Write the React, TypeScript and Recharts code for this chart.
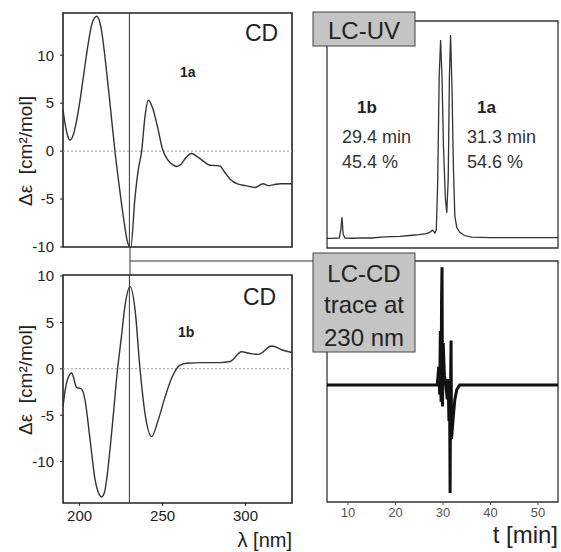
import React from "react";
import {
  LineChart,
  Line,
  XAxis,
  YAxis,
  ReferenceLine,
  ReferenceArea,
} from "recharts";

// CD spectrum of 1a (top left)
const wavelength1a = [
  190, 191.5, 193, 194.2, 196, 198, 200, 202.5, 205, 207.5, 210.3, 213, 215.5,
  218, 221.3, 224, 226.5, 228.5, 230.8, 233.4, 235.5, 237.4, 239.4, 241.4, 244,
  247, 250, 253, 256, 258.5, 261, 264, 267.5, 271, 275, 278, 281, 284.6, 287,
  290.6, 295.5, 300, 305.8, 310.6, 313.6, 317, 321, 328,
];
const deltaEps1a = [
  4.3, 2.6, 1.5, 1.15, 1.6, 3.0, 5.0, 8.0, 11.0, 13.3, 14.06, 12.8, 9.5, 5.5,
  0, -3.8, -7.0, -9.2, -10.1, -4.8, -1.8, 0, 3.6, 5.3, 4.5, 2.5, 0.2, -0.9,
  -1.4, -1.6, -1.4, -0.7, -0.25, -0.6, -1.1, -1.45, -1.5, -1.55, -2.1, -2.9,
  -3.45, -3.6, -3.8, -3.4, -3.6, -3.5, -3.4, -3.4,
];

// CD spectrum of 1b (bottom left)
const wavelength1b = [
  190, 191.2, 193, 195.2, 198.2, 201.3, 203.3, 206.3, 209.3, 211.5, 213.3,
  215, 216.3, 219.3, 222.9, 225.3, 227.3, 230.4, 233.4, 236.4, 239.4, 243.4,
  247.4, 251.4, 255.5, 260.5, 264.5, 274.5, 284.6, 290.6, 297.6, 302.7, 307.7,
  315.7, 322.7, 328,
];
const deltaEps1b = [
  -4.1, -2.4, -1.0, -0.45, -2.0, -2.2, -3.4, -7.6, -11.9, -13.4, -13.8, -13.3,
  -11.9, -6.9, 0, 3.6, 6.7, 8.85, 6.4, 0, -4.8, -7.3, -5.5, -3.1, -1.0, 0.4,
  0.6, 0.67, 0.67, 0.78, 1.83, 1.65, 1.55, 2.45, 2.0, 1.75,
];

// LC-UV chromatogram (top right)
const timeUV = [
  5.6, 7, 8.2, 8.5, 8.75, 9.0, 9.4, 11, 13, 15, 17, 19, 21, 23, 25, 26.5, 27.3,
  27.8, 28.3, 28.6, 28.9, 29.2, 29.5, 29.8, 30.1, 30.5, 30.8, 31.1, 31.35,
  31.6, 31.9, 32.2, 32.5, 32.9, 33.5, 34.5, 36, 40, 45, 50, 54.2,
];
const absorbanceUV = [
  4.2, 4.3, 4.5, 8, 13.5, 6, 4.4, 4.3, 4.5, 4.4, 4.8, 5.0, 5.1, 5.5, 5.9, 6.3,
  7.0, 7.9, 6.6, 8, 30, 75, 91.6, 75, 45, 22, 15.5, 30, 75, 93.8, 70, 35, 14,
  9, 7, 5.5, 4.8, 4.6, 4.6, 4.6, 4.6,
];

// LC-CD trace at 230 nm (bottom right)
const timeCD = [
  5.6, 28.8, 29.1, 29.3, 29.45, 29.6, 29.7, 29.8, 29.9, 30.05, 30.3, 30.6,
  30.9, 31.1, 31.25, 31.4, 31.5, 31.6, 31.7, 31.8, 32.0, 32.2, 32.5, 32.9,
  33.5, 54.2,
];
const signalCD = [
  0, 0, 15, -8, 45, -14, 70, 98, -18, 35, 8, 0, -12, 5, -30, -15, -90, 0, 37,
  -45, -35, -25, -12, -4, 0, 0,
];

const lambdaTicks = [200, 250, 300];
const epsTicks = [-10, -5, 0, 5, 10];
const timeTicks = [10, 20, 30, 40, 50];

const spectrum1a = wavelength1a.map((w, i) => ({ w, v: deltaEps1a[i] }));
const spectrum1b = wavelength1b.map((w, i) => ({ w, v: deltaEps1b[i] }));
const uvTrace = timeUV.map((t, i) => ({ t, v: absorbanceUV[i] }));
const cdTrace = timeCD.map((t, i) => ({ t, v: signalCD[i] }));

const font = "'Liberation Sans', Arial, Helvetica, sans-serif";
const ink = "#222";
const tickStyle = { fontSize: 15, fill: ink, fontFamily: font };
const yLabel = "Δε\u00A0\u00A0[cm²/mol]";

const App: React.FC = () => {
  return (
    <div
      style={{
        position: "absolute",
        left: 0,
        top: 0,
        width: 561,
        height: 552,
        background: "#fff",
        fontFamily: font,
      }}
    >
      {/* CD 1a */}
      <div style={{ position: "absolute", left: 0, top: 0 }}>
        <LineChart
          width={300}
          height={262}
          data={spectrum1a}
          margin={{ top: 13, right: 8, bottom: 15, left: 0 }}
        >
          <XAxis dataKey="w" type="number" domain={[190, 328]} allowDataOverflow hide />
          <YAxis
            type="number"
            domain={[-10, 14.4]}
            ticks={epsTicks}
            interval={0}
            allowDataOverflow
            width={63}
            axisLine={false}
            tickSize={3}
            tickMargin={6}
            tick={tickStyle}
            stroke={ink}
          />
          <ReferenceLine y={0} stroke="#999" strokeDasharray="2 2" />
          <ReferenceLine x={230} stroke="#333" />
          <ReferenceArea x1={190} x2={328} y1={-10} y2={14.4} fill="none" stroke={ink} strokeWidth={1.6} />
          <Line
            dataKey="v"
            type="monotone"
            stroke="#333"
            strokeWidth={1.4}
            dot={false}
            isAnimationActive={false}
          />
        </LineChart>
      </div>

      {/* CD 1b */}
      <div style={{ position: "absolute", left: 0, top: 265 }}>
        <LineChart
          width={300}
          height={287}
          data={spectrum1b}
          margin={{ top: 10, right: 8, bottom: 14, left: 0 }}
        >
          <XAxis
            dataKey="w"
            type="number"
            domain={[190, 328]}
            ticks={lambdaTicks}
            interval={0}
            allowDataOverflow
            height={35}
            axisLine={false}
            tickSize={3}
            tickMargin={4}
            tick={tickStyle}
            stroke={ink}
          />
          <YAxis
            type="number"
            domain={[-14.45, 10.1]}
            ticks={epsTicks}
            interval={0}
            allowDataOverflow
            width={63}
            axisLine={false}
            tickSize={3}
            tickMargin={6}
            tick={tickStyle}
            stroke={ink}
          />
          <ReferenceLine y={0} stroke="#999" strokeDasharray="2 2" />
          <ReferenceLine x={230} stroke="#333" />
          <ReferenceArea x1={190} x2={328} y1={-14.45} y2={10.1} fill="none" stroke={ink} strokeWidth={1.6} />
          <Line
            dataKey="v"
            type="monotone"
            stroke="#333"
            strokeWidth={1.4}
            dot={false}
            isAnimationActive={false}
          />
        </LineChart>
      </div>

      {/* LC-UV */}
      <div style={{ position: "absolute", left: 320, top: 0 }}>
        <LineChart
          width={241}
          height={255}
          data={uvTrace}
          margin={{ top: 21, right: 3, bottom: 7, left: 7 }}
        >
          <XAxis dataKey="t" type="number" domain={[5.6, 54.2]} allowDataOverflow hide />
          <YAxis type="number" domain={[0, 100]} allowDataOverflow hide />
          <ReferenceArea x1={5.6} x2={54.2} y1={0} y2={100} fill="none" stroke="#333" strokeWidth={1.3} />
          <Line
            dataKey="v"
            type="linear"
            stroke="#333"
            strokeWidth={1.3}
            dot={false}
            isAnimationActive={false}
          />
        </LineChart>
      </div>

      {/* LC-CD */}
      <div style={{ position: "absolute", left: 320, top: 255 }}>
        <LineChart
          width={241}
          height={297}
          data={cdTrace}
          margin={{ top: 6, right: 3, bottom: 20, left: 7 }}
        >
          <XAxis
            dataKey="t"
            type="number"
            domain={[5.6, 54.2]}
            ticks={timeTicks}
            interval={0}
            allowDataOverflow
            height={30}
            axisLine={false}
            tickSize={3}
            tickMargin={3}
            tick={{ fontSize: 13, fill: "#555", fontFamily: font }}
            stroke="#555"
          />
          <YAxis type="number" domain={[-97.5, 103.3]} allowDataOverflow hide />
          <ReferenceArea x1={5.6} x2={54.2} y1={-97.5} y2={103.3} fill="none" stroke="#333" strokeWidth={1.3} />
          <Line
            dataKey="v"
            type="linear"
            stroke="#111"
            strokeWidth={3}
            dot={false}
            isAnimationActive={false}
          />
        </LineChart>
      </div>

      {/* labels and connectors */}
      <svg
        width={561}
        height={552}
        style={{ position: "absolute", left: 0, top: 0, pointerEvents: "none" }}
        fontFamily={font}
        fill={ink}
      >
        <line x1={130} y1={247} x2={130} y2={275} stroke="#333" strokeWidth={1} />
        <line x1={130} y1={261} x2={327} y2={261} stroke="#333" strokeWidth={1} />

        <text x={245} y={41} fontSize={23}>CD</text>
        <text x={180} y={77} fontSize={14} fontWeight="bold">1a</text>
        <text x={243} y={305} fontSize={23}>CD</text>
        <text x={178} y={337} fontSize={14} fontWeight="bold">1b</text>

        <text x={32} y={151} fontSize={19} textAnchor="middle" transform="rotate(-90 32 151)">
          {yLabel}
        </text>
        <text x={32} y={380} fontSize={19} textAnchor="middle" transform="rotate(-90 32 380)">
          {yLabel}
        </text>
        <text x={292} y={547} fontSize={20} textAnchor="end">λ [nm]</text>
        <text x={558} y={543} fontSize={24} textAnchor="end">t [min]</text>

        <rect x={313} y={12} width={102} height={34} fill="#c4c4c4" stroke="#444" strokeWidth={1} />
        <text x={364} y={39} fontSize={24} textAnchor="middle">LC-UV</text>

        <text x={357} y={113} fontSize={17} fontWeight="bold">1b</text>
        <text x={342} y={143} fontSize={18} fill="#333">29.4 min</text>
        <text x={342} y={168} fontSize={18} fill="#333">45.4 %</text>
        <text x={477} y={113} fontSize={17} fontWeight="bold">1a</text>
        <text x={467} y={143} fontSize={18} fill="#333">31.3 min</text>
        <text x={467} y={168} fontSize={18} fill="#333">54.6 %</text>

        <rect x={313} y={253} width={102} height={99} fill="#c4c4c4" stroke="#444" strokeWidth={1} />
        <text x={364} y={282} fontSize={24} textAnchor="middle">LC-CD</text>
        <text x={364} y={313} fontSize={24} textAnchor="middle">trace at</text>
        <text x={364} y={346} fontSize={24} textAnchor="middle">230 nm</text>
      </svg>
    </div>
  );
};

export default App;
